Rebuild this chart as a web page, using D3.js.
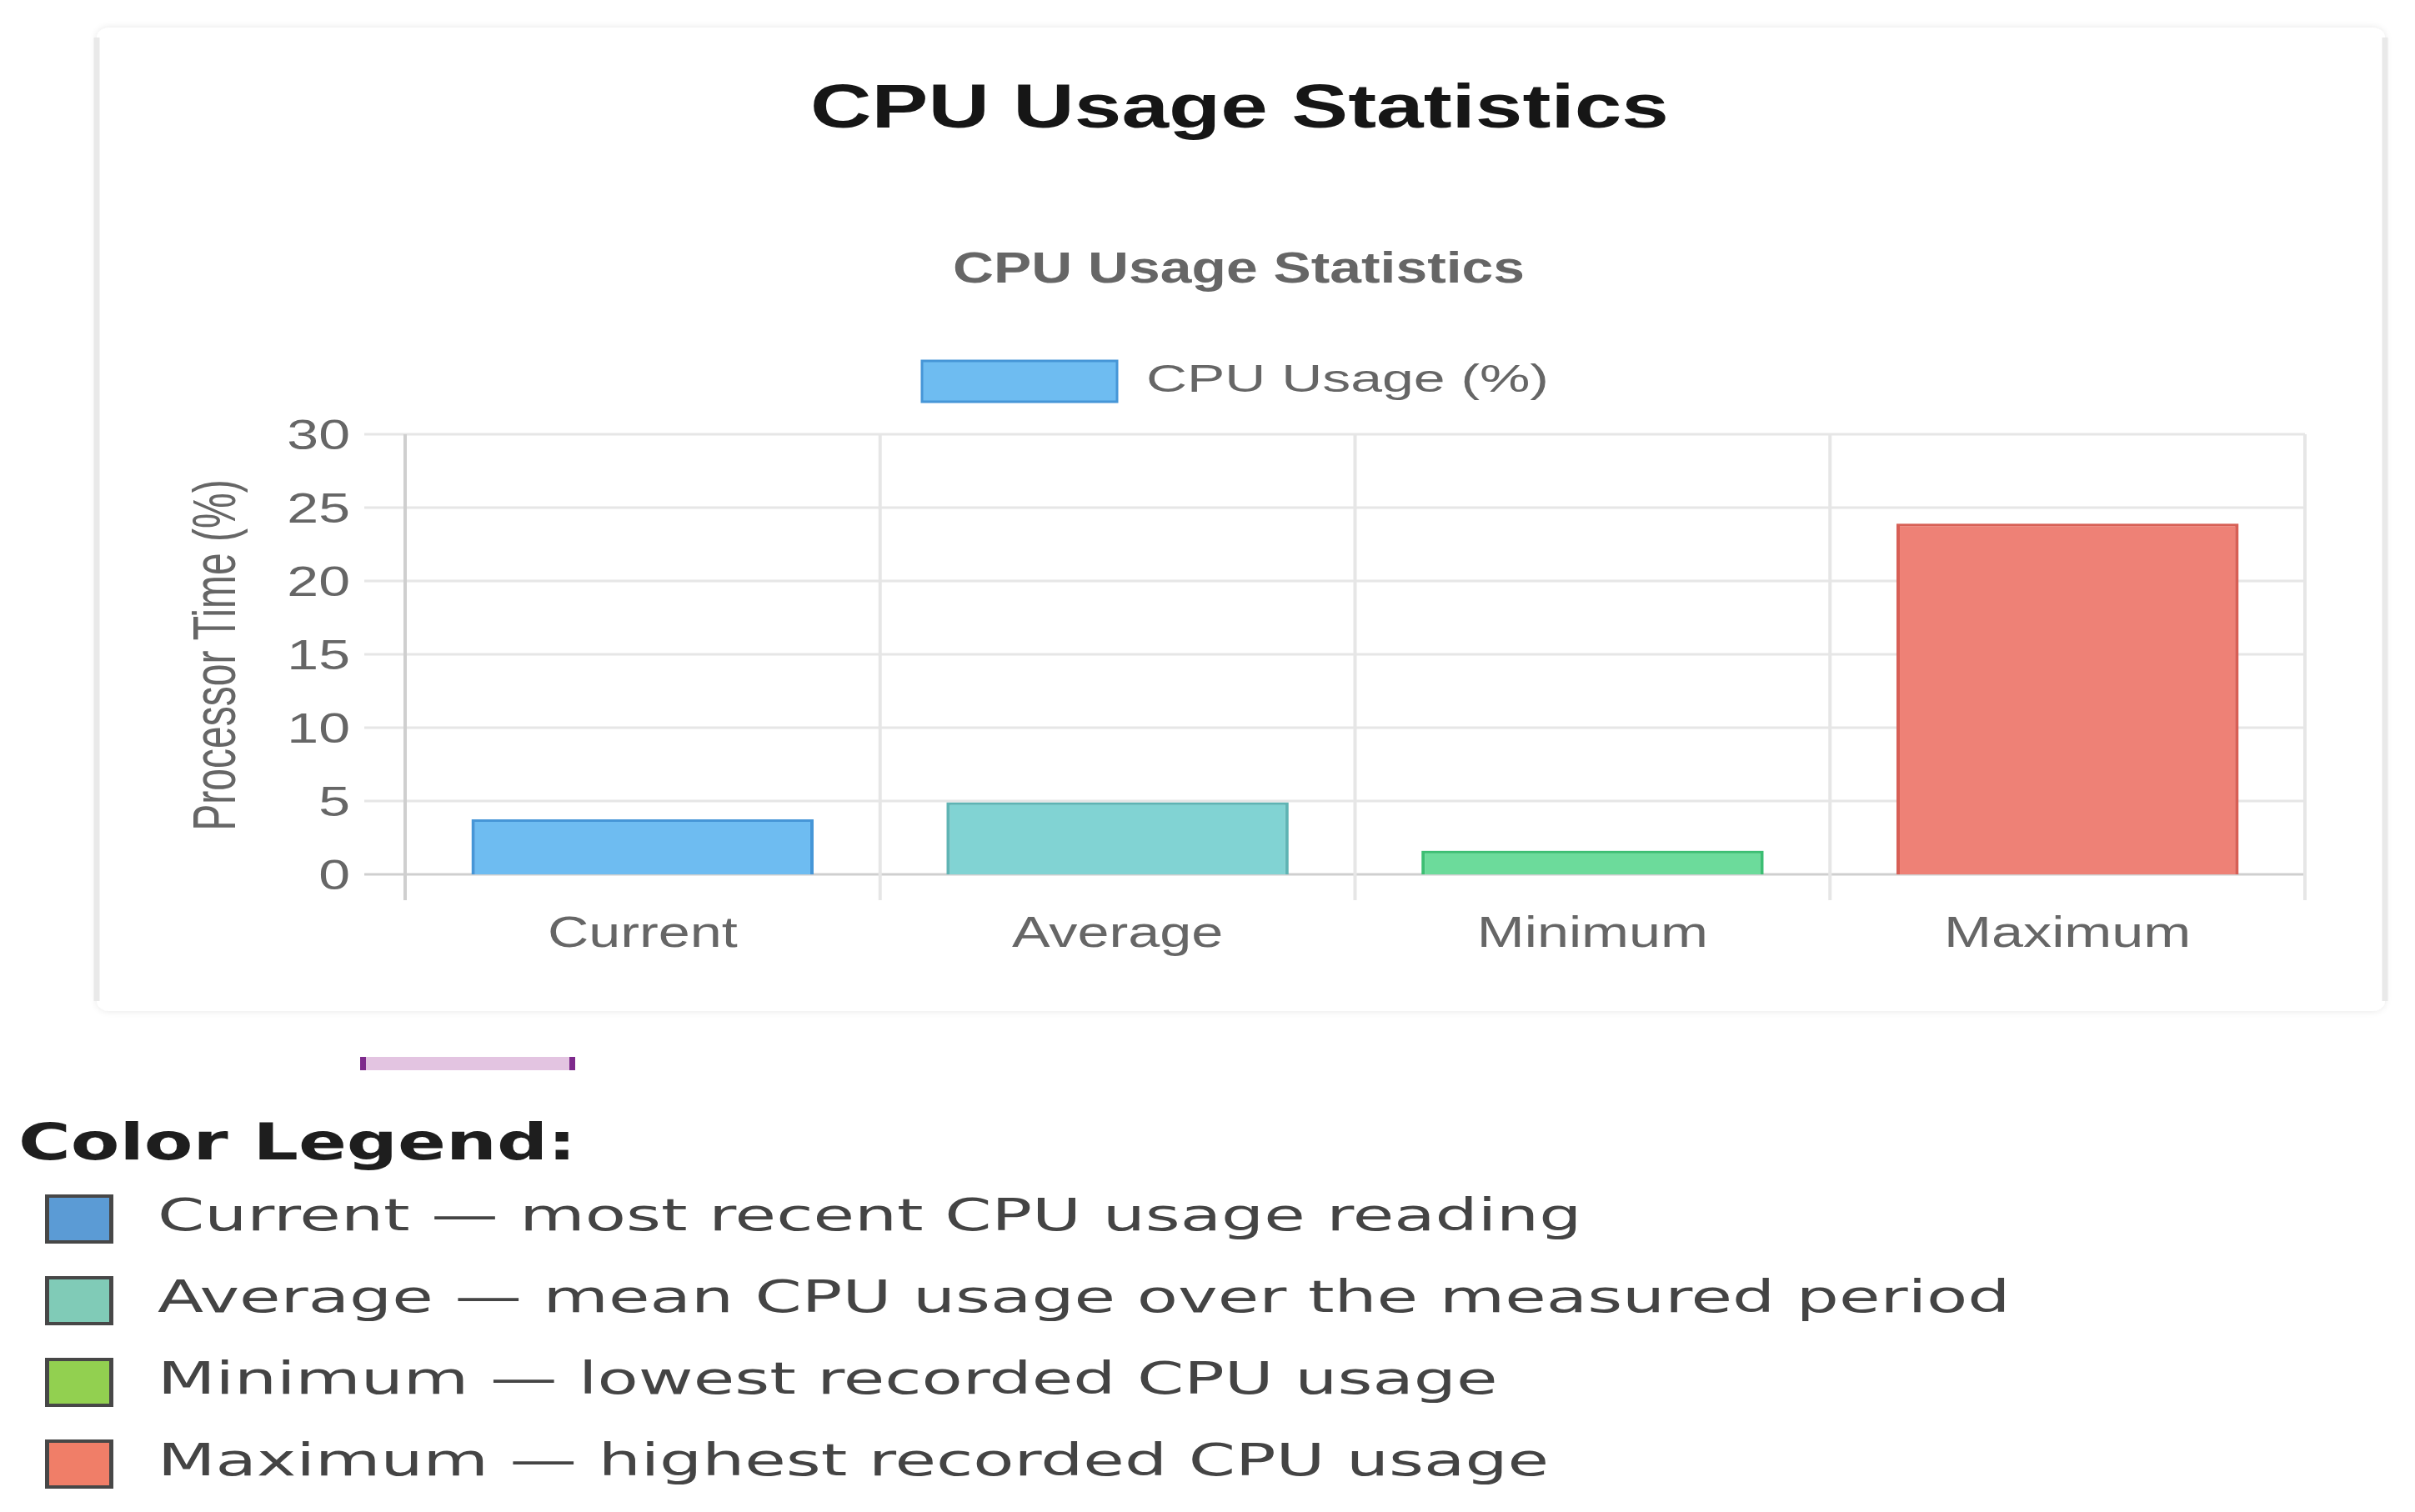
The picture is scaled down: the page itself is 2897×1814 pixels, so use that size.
<!DOCTYPE html>
<html>
<head>
<meta charset="utf-8">
<script src="https://cdn.jsdelivr.net/npm/d3@7"></script>
<style>
  html, body { margin: 0; padding: 0; background: #ffffff; }
  svg { display: block; }
</style>
</head>
<body>
<svg id="chart" width="2897" height="1814"></svg>
<script>
// ---------- data ----------
const pageTitle = "CPU Usage Statistics";
const chartTitle = "CPU Usage Statistics";
const datasetLabel = "CPU Usage (%)";
const yAxisTitle = "Processor Time (%)";
const categories = ["Current", "Average", "Minimum", "Maximum"];
const cpuValues = [3.75, 4.9, 1.6, 23.9];
const barFills = ["rgba(54,162,235,0.72)", "rgba(75,192,192,0.7)", "rgba(46,204,113,0.7)", "rgba(231,76,60,0.7)"];
const barBorders = ["rgb(70,150,215)", "rgb(95,180,180)", "rgb(60,190,115)", "rgb(215,95,85)"];
const yTicks = [0, 5, 10, 15, 20, 25, 30];
const legendTitle = "Color Legend:";
const legendNames = ["Current", "Average", "Minimum", "Maximum"];
const legendDescriptions = [
  "most recent CPU usage reading",
  "mean CPU usage over the measured period",
  "lowest recorded CPU usage",
  "highest recorded CPU usage"
];
const legendColors = ["#5b9bd5", "#80cbb7", "#92d050", "#f07e68"];

// ---------- layout ----------
const svg = d3.select("#chart");
const chartFont = "'Liberation Sans', Arial, Helvetica, sans-serif";
const legendFont = "'DejaVu Sans', sans-serif";

const plot = { left: 486, right: 2765, top: 521, bottom: 1049 };
const x = d3.scaleBand().domain(categories).range([plot.left, plot.right]).paddingInner(0).paddingOuter(0);
const y = d3.scaleLinear().domain([0, 30]).range([plot.bottom, plot.top]);
const barFrac = 0.72;

function stext(parent, px, py, str, o) {
  return parent.append("text")
    .attr("transform", `translate(${px},${py}) scale(${o.k},1)`)
    .attr("font-family", o.family || chartFont)
    .attr("font-size", o.size)
    .attr("font-weight", o.weight || "normal")
    .attr("fill", o.color || "#666")
    .attr("text-anchor", o.anchor || "start")
    .text(str);
}

// card with soft shadow
const defs = svg.append("defs");
const f = defs.append("filter").attr("id", "shadow").attr("x", "-5%").attr("y", "-5%").attr("width", "110%").attr("height", "110%");
f.append("feGaussianBlur").attr("in", "SourceAlpha").attr("stdDeviation", 5).attr("result", "b");
f.append("feComponentTransfer").attr("in", "b").attr("result", "c")
  .append("feFuncA").attr("type", "linear").attr("slope", 0.10);
const fm = f.append("feMerge");
fm.append("feMergeNode").attr("in", "c");
fm.append("feMergeNode").attr("in", "SourceGraphic");

svg.append("rect")
  .attr("x", 116).attr("y", 33).attr("width", 2745).attr("height", 1180)
  .attr("rx", 16).attr("ry", 12)
  .attr("fill", "#ffffff")
  .attr("filter", "url(#shadow)");
// side edges a bit stronger, as in the reference
svg.append("line").attr("x1", 116).attr("x2", 116).attr("y1", 45).attr("y2", 1201)
  .attr("stroke", "#e9e9e9").attr("stroke-width", 7);
svg.append("line").attr("x1", 2861).attr("x2", 2861).attr("y1", 45).attr("y2", 1201)
  .attr("stroke", "#e9e9e9").attr("stroke-width", 7);

// titles
stext(svg, 1487, 153, pageTitle, { size: 74, k: 1.376, weight: "bold", color: "#161616", anchor: "middle" });
stext(svg, 1486, 339, chartTitle, { size: 51, k: 1.33, weight: "bold", color: "#666", anchor: "middle" });

// dataset legend
svg.append("rect").attr("x", 1106).attr("y", 433).attr("width", 234).attr("height", 49)
  .attr("fill", barFills[0]).attr("stroke", barBorders[0]).attr("stroke-width", 3);
stext(svg, 1375, 470, datasetLabel, { size: 47, k: 1.445, color: "#666" });

// grid: horizontal lines
const g = svg.append("g");
g.selectAll("line.hgrid").data(yTicks).join("line")
  .attr("class", "hgrid")
  .attr("x1", plot.left - 49).attr("x2", plot.right)
  .attr("y1", d => y(d)).attr("y2", d => y(d))
  .attr("stroke", d => d === 0 ? "#cfcfcf" : "#e6e6e6")
  .attr("stroke-width", 3);

// grid: vertical category boundaries
const bounds = categories.map(c => x(c)).concat([plot.right]);
g.selectAll("line.vgrid").data(bounds).join("line")
  .attr("class", "vgrid")
  .attr("x1", d => d).attr("x2", d => d)
  .attr("y1", plot.top).attr("y2", plot.bottom + 31)
  .attr("stroke", (d, i) => i === 0 ? "#cfcfcf" : "#e6e6e6")
  .attr("stroke-width", 4);

// y tick labels
yTicks.forEach(t => {
  stext(g, 420, y(t) + 18, String(t), { size: 50, k: 1.36, color: "#666", anchor: "end" });
});

// y axis title
svg.append("text")
  .attr("transform", `translate(282, 786) scale(1.5,1) rotate(-90)`)
  .attr("font-family", chartFont).attr("font-size", 48).attr("fill", "#666")
  .attr("text-anchor", "middle")
  .text(yAxisTitle);

// bars
const bw = x.bandwidth() * barFrac;
const bars = svg.append("g").selectAll("g.bar").data(categories).join("g").attr("class", "bar");
bars.append("rect")
  .attr("x", (d) => x(d) + (x.bandwidth() - bw) / 2)
  .attr("y", (d, i) => y(cpuValues[i]))
  .attr("width", bw)
  .attr("height", (d, i) => y(0) - y(cpuValues[i]))
  .attr("fill", (d, i) => barBorders[i]);
bars.append("rect")
  .attr("x", (d) => x(d) + (x.bandwidth() - bw) / 2 + 4)
  .attr("y", (d, i) => y(cpuValues[i]) + 3)
  .attr("width", bw - 8)
  .attr("height", (d, i) => y(0) - y(cpuValues[i]) - 3)
  .attr("fill", "#ffffff");
bars.append("rect")
  .attr("x", (d) => x(d) + (x.bandwidth() - bw) / 2 + 4)
  .attr("y", (d, i) => y(cpuValues[i]) + 3)
  .attr("width", bw - 8)
  .attr("height", (d, i) => y(0) - y(cpuValues[i]) - 3)
  .attr("fill", (d, i) => barFills[i]);

// x labels
categories.forEach(c => {
  stext(svg, x(c) + x.bandwidth() / 2, 1136, c, { size: 51, k: 1.34, color: "#666", anchor: "middle" });
});

// purple divider
svg.append("rect").attr("x", 432).attr("y", 1268).attr("width", 258).attr("height", 16).attr("fill", "#e3c4e1");
svg.append("rect").attr("x", 432).attr("y", 1268).attr("width", 7).attr("height", 16).attr("fill", "#7e2a8c");
svg.append("rect").attr("x", 683).attr("y", 1268).attr("width", 7).attr("height", 16).attr("fill", "#7e2a8c");

// color legend
stext(svg, 22, 1391, legendTitle, { size: 60, k: 1.425, weight: "bold", color: "#1e1e1e", family: legendFont });
const rowY = d3.scaleLinear().domain([0, 3]).range([1433, 1727]);
legendNames.forEach((n, i) => {
  const ty = rowY(i);
  svg.append("rect").attr("x", 54).attr("y", ty).attr("width", 82).attr("height", 59).attr("fill", "#474747");
  svg.append("rect").attr("x", 59).attr("y", ty + 4).attr("width", 72).attr("height", 51).attr("fill", legendColors[i]);
  stext(svg, 189, ty + 43, n + " \u2014 " + legendDescriptions[i], { size: 53.5, k: 1.506, color: "#444", family: legendFont });
});
</script>
</body>
</html>
